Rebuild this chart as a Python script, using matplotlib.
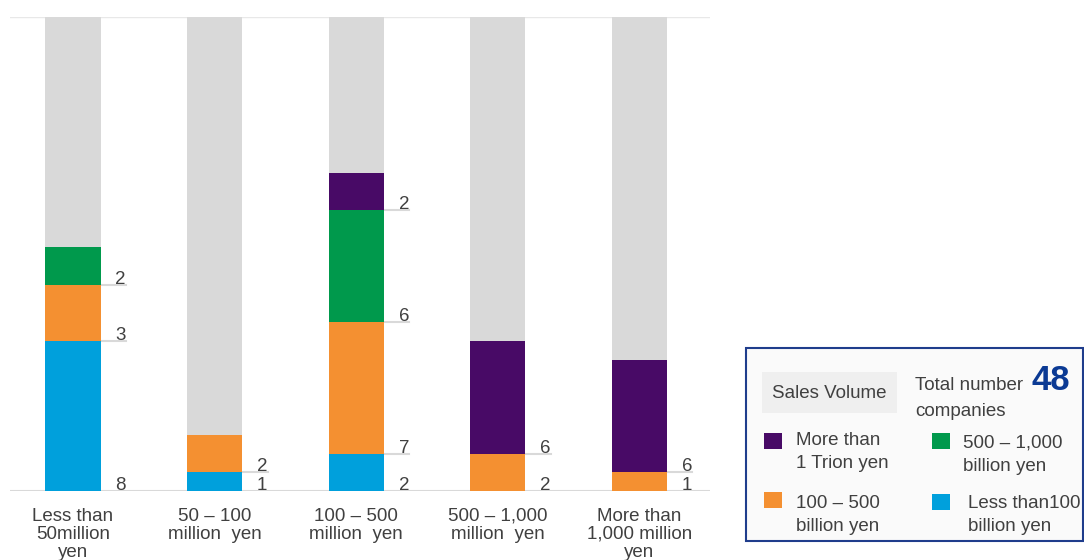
import matplotlib
matplotlib.use('Agg')
import matplotlib.pyplot as plt
from matplotlib.patches import Rectangle

plt.rcParams['font.family'] = ['Liberation Sans', 'DejaVu Sans']

# categorías (tamaño de la empresa)
categorias = ['Less than\n50million\nyen', '50 – 100\nmillion  yen', '100 – 500\nmillion  yen',
              '500 – 1,000\nmillion  yen', 'More than\n1,000 million\nyen']

# series apiladas, de abajo hacia arriba
menos_100 = [8, 1, 2, 0, 0]
de_100_500 = [3, 2, 7, 2, 1]
de_500_1000 = [2, 0, 6, 0, 0]
mas_1_trillon = [0, 0, 2, 6, 6]

series = [menos_100, de_100_500, de_500_1000, mas_1_trillon]
colores = ['#00A0DC', '#F49031', '#00994C', '#480A66']

# tope de la barra gris de fondo
tope = 25.3
total = 48

leyenda_txt = ['More than\n1 Trion yen', '500 – 1,000\nbillion yen',
               '100 – 500\nbillion yen', 'Less than100\nbillion yen']
leyenda_col = ['#480A66', '#00994C', '#F49031', '#00A0DC']

gris_txt = '#404040'

#%%
fig = plt.figure(figsize=(10.84, 5.6), dpi=100)
ax = fig.add_axes([10 / 1084, 69 / 560, 700 / 1084, 474 / 560])

x = list(range(len(categorias)))
ancho = 0.39

# barras grises de fondo
ax.bar(x, [tope] * len(x), width=ancho, color='#D9D9D9', zorder=1)

base = [0] * len(x)
for valores, color in zip(series, colores):
    ax.bar(x, valores, width=ancho, bottom=base, color=color, zorder=2)
    for i, v in enumerate(valores):
        if v == 0:
            continue
        if base[i] > 0:
            ax.plot([i + ancho / 2, i + 0.375], [base[i], base[i]],
                    color='#D9D9D9', lw=1.5, zorder=1)
        ax.text(i + 0.30, base[i] + 0.05, str(v), va='baseline', ha='left',
                fontsize=13.5, color=gris_txt)
    base = [b + v for b, v in zip(base, valores)]

ax.axhline(0, color='#D9D9D9', lw=1.5, zorder=0)
ax.axhline(tope, color='#E8E8E8', lw=1, zorder=0)

ax.set_xlim(-0.445, 4.5)
ax.set_ylim(0, tope)
ax.set_xticks(x)
ax.set_xticklabels(categorias, fontsize=13.5, color=gris_txt, linespacing=1.1)
ax.tick_params(axis='x', length=0, pad=12)
ax.set_yticks([])
for s in ax.spines.values():
    s.set_visible(False)

#%% Leyenda (cuadro a la derecha)
def fx(px):
    return px / 1084

def fy(py):
    return 1 - py / 560

fig.patches.append(Rectangle((fx(746), fy(541)), fx(1083) - fx(746), fy(348) - fy(541),
                             transform=fig.transFigure, facecolor='#FAFAFA',
                             edgecolor='#1F3D8C', lw=1.5, zorder=0))
fig.patches.append(Rectangle((fx(762), fy(413)), fx(897) - fx(762), fy(372) - fy(413),
                             transform=fig.transFigure, facecolor='#EFEFEF',
                             edgecolor='none', zorder=1))
fs = 13.5
fig.text(fx(829), fy(393), 'Sales Volume', ha='center', va='center',
         fontsize=fs, color=gris_txt)
fig.text(fx(915), fy(390), 'Total number', ha='left', va='baseline',
         fontsize=fs, color=gris_txt)
fig.text(fx(915), fy(416), 'companies', ha='left', va='baseline',
         fontsize=fs, color=gris_txt)
fig.text(fx(1032), fy(390), str(total), ha='left', va='baseline',
         fontsize=25, fontweight='bold', color='#0B3A94')

posiciones = [(764, 433, 796, 445), (932, 433, 963, 448),
              (764, 492, 796, 508), (932, 494, 968, 508)]
for texto, color, (sx, sy, tx, ty) in zip(leyenda_txt, leyenda_col, posiciones):
    fig.patches.append(Rectangle((fx(sx), fy(sy + 16)), fx(18), 16 / 560,
                                 transform=fig.transFigure, facecolor=color,
                                 edgecolor='none', zorder=2))
    l1, l2 = texto.split('\n')
    fig.text(fx(tx), fy(ty), l1, ha='left', va='baseline', fontsize=fs, color=gris_txt)
    fig.text(fx(tx), fy(ty + 23), l2, ha='left', va='baseline', fontsize=fs, color=gris_txt)

fig.savefig('out.png', dpi=100)
